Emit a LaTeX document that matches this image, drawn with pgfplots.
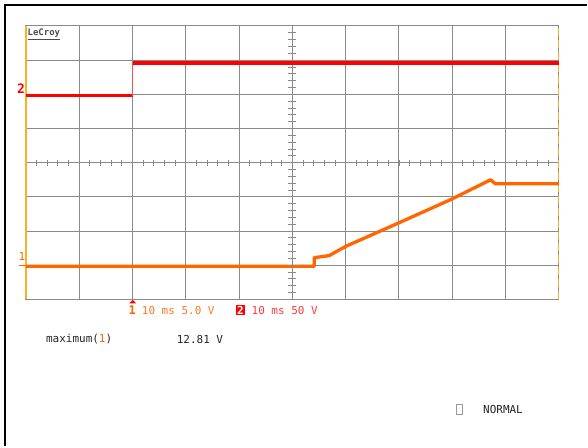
\documentclass[border=0pt]{standalone}
\usepackage{pgfplots}
\pgfplotsset{compat=1.18}
\usepackage{fontspec}
\setmonofont{DejaVu Sans Mono}
\definecolor{tr1}{HTML}{FF6600}
\definecolor{tr2}{HTML}{FF0000}
\definecolor{gridc}{HTML}{8A8A8A}
\definecolor{lab1}{HTML}{FF7A2A}
\definecolor{lab2}{HTML}{FF3B3B}
\definecolor{edge}{HTML}{FFB020}
\newcommand{\mono}{\ttfamily\fontsize{11}{11}\selectfont}
\begin{document}
\begin{tikzpicture}
\begin{scope}[x=1pt,y=-1pt]
\path[fill=white] (0,0) rectangle (588,447);
\draw[line width=2.5pt] (5,5) -- (588,5);
\draw[line width=2.5pt] (5,3.75) -- (5,447);
\end{scope}
\begin{axis}[at={(26pt,-300pt)}, anchor=south west, scale only axis,
  width=534pt, height=274pt,
  xmin=-5, xmax=5, ymin=-4, ymax=4,
  xtick={-5,...,5}, ytick={-4,...,4},
  xticklabels={}, yticklabels={},
  major tick length=0pt,
  grid=major, grid style={gridc, line width=1pt},
  axis line style={gridc, line width=1pt},
  clip=false]
\draw[gridc, line width=1pt] (axis cs:-5,0) -- (axis cs:5,0);
\draw[gridc, line width=1pt] (axis cs:0,-4) -- (axis cs:0,4);
\draw[edge, line width=1.3pt] (axis cs:-5,-4) -- (axis cs:-5,4);
\draw[edge, line width=1.3pt, dash pattern=on 8pt off 4pt] (axis cs:5,-4) -- (axis cs:5,4);
\addplot[tr2, line width=3pt] coordinates {(-5,1.96) (-3,1.96)};
\addplot[tr2!70, line width=1pt] coordinates {(-3,1.96) (-3,2.93)};
\addplot[tr2, line width=4pt] coordinates {(-3,2.93) (5,2.93)};
\addplot[tr1, line width=3.3pt, line join=round] coordinates {(-5,-3.03) (0.41,-3.03) (0.41,-2.78) (0.69,-2.72) (1.0,-2.45) (2.0,-1.76) (3.0,-1.06) (3.72,-0.50) (3.81,-0.62) (5,-0.62)};
\end{axis}
\begin{scope}[x=1pt,y=-1pt]
\foreach \k in {1,...,49} \draw[gridc, line width=0.9pt] ({26+\k*10.68},160) -- ({26+\k*10.68},166);
\foreach \k in {1,...,39} \draw[gridc, line width=0.9pt] (289,{26+\k*6.85}) -- (297,{26+\k*6.85});
\node[anchor=north west, inner sep=0, text=black!70, font=\ttfamily\bfseries\fontsize{9}{9}\selectfont] at (27.5,29) {\underline{LeCroy}};
\node[text=tr2, font=\ttfamily\bfseries\fontsize{13}{13}\selectfont, inner sep=0] at (21,89) {2};
\node[text=tr1, font=\ttfamily\fontsize{11}{11}\selectfont, inner sep=0] at (22,257) {1};
\draw[tr1, line width=1.5pt] (19,266) -- (26,266);
\fill[tr2] (129.5,304) -- (136.5,304) -- (133,300.5) -- cycle;
\node[text=tr1, font=\ttfamily\bfseries\fontsize{12}{12}\selectfont, inner sep=0] at (132.5,311) {1};
\node[anchor=west, text=lab1, font=\mono, inner sep=0] at (142,311) {10 ms 5.0 V};
\node[fill=tr2, text=white, font=\ttfamily\bfseries\fontsize{11}{11}\selectfont, inner sep=1pt] at (241,311) {2};
\node[anchor=west, text=lab2, font=\mono, inner sep=0] at (252,311) {10 ms 50 V};
\node[anchor=west, text=black!85, font=\mono, inner sep=0] at (46,340) {maximum(\textcolor{tr1}{1})};
\node[anchor=west, text=black!85, font=\mono, inner sep=0] at (177,340) {12.81 V};
\draw[black!40, line width=0.6pt] (457.5,405) rectangle (463,415);
\node[anchor=west, text=black!85, font=\mono, inner sep=0] at (484,410) {NORMAL};
\end{scope}
\end{tikzpicture}
\end{document}
